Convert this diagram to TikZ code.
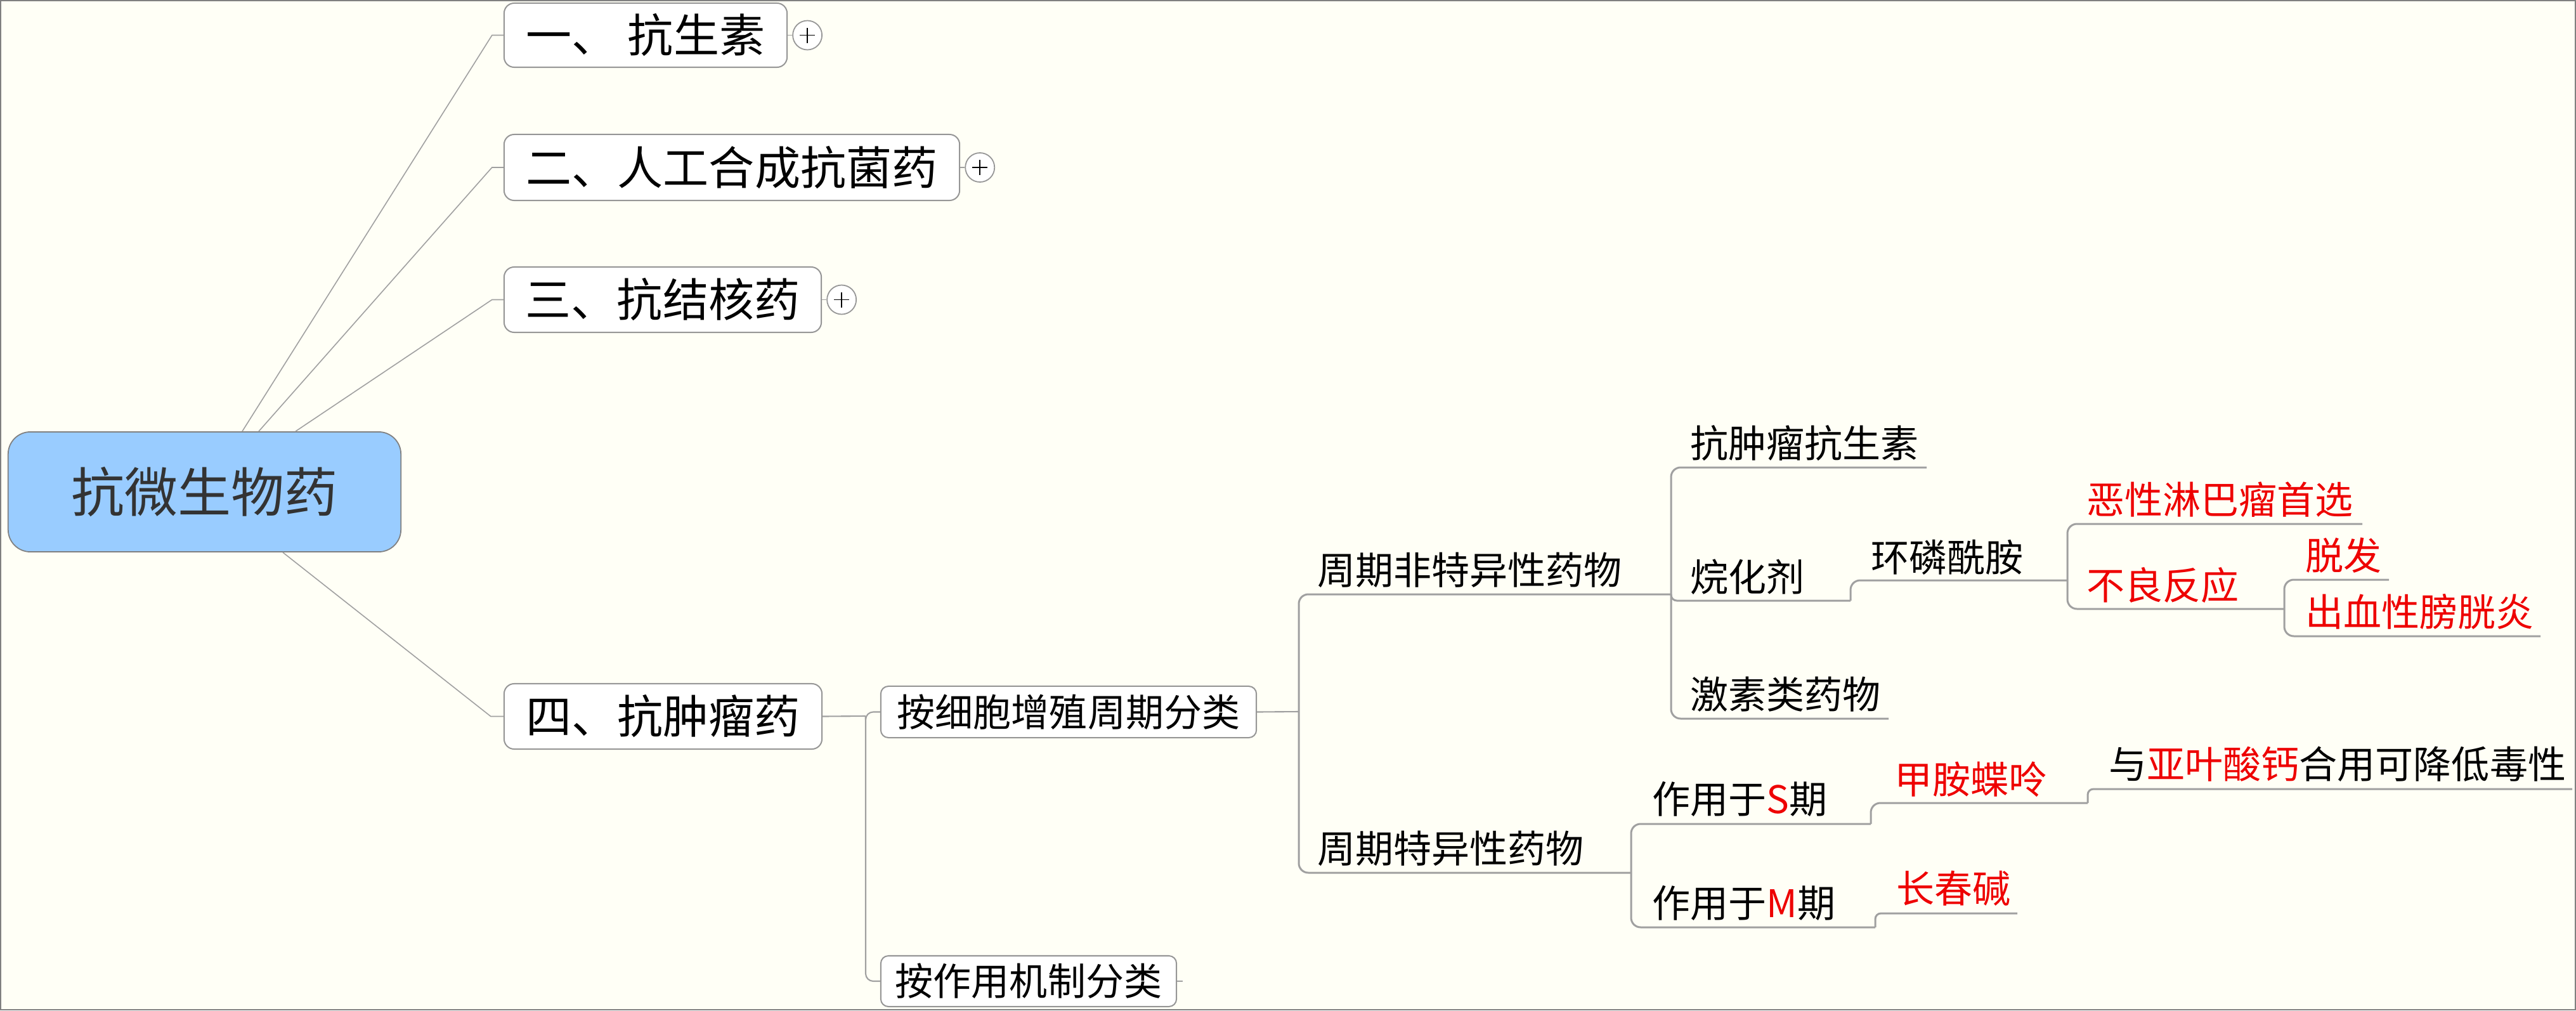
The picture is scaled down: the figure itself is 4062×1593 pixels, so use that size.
\documentclass[tikz,border=0pt]{standalone}
\usepackage{fontspec}
\setmainfont{Noto Sans CJK SC}
\usetikzlibrary{calc}
\definecolor{bgc}{RGB}{255,255,246}
\definecolor{framec}{RGB}{128,128,128}
\definecolor{linec}{RGB}{160,160,160}
\definecolor{boxc}{RGB}{150,150,150}
\definecolor{rootfill}{RGB}{153,204,255}
\definecolor{redt}{RGB}{238,0,0}
\definecolor{roottext}{RGB}{51,51,51}
\tikzset{
  rootbox/.style={draw=framec, line width=0.5pt, fill=rootfill, rounded corners=0.35cm, inner sep=0pt,
    text=roottext, font=\fontsize{23.9}{28}\selectfont},
  topbox/.style={draw=boxc, line width=0.57pt, fill=white, rounded corners=0.16cm, inner sep=0pt,
    font=\fontsize{20.5}{24}\selectfont},
  midbox/.style={draw=boxc, line width=0.57pt, fill=white, rounded corners=0.12cm, inner sep=0pt,
    font=\fontsize{17.07}{20}\selectfont},
  lbl/.style={inner sep=0pt, anchor=west, yshift=-0.07cm, font=\fontsize{17.07}{20}\selectfont,
    text height=0.88em, text depth=0.12em},
  rlbl/.style={lbl, text=redt},
  uline/.style={draw=linec, line width=0.85pt, rounded corners=0.15cm},
  sline/.style={draw=linec, line width=0.85pt, rounded corners=0.09cm},
  vline/.style={draw=linec, line width=0.6pt, rounded corners=0.12cm},
  rootline/.style={draw=linec, line width=0.45pt},
  plusc/.style={circle, draw=boxc, fill=white, minimum size=0.46cm, inner sep=0pt, line width=0.5pt,
    path picture={
      \draw[black, line width=0.45pt] ([xshift=-0.12cm]path picture bounding box.center) -- ([xshift=0.12cm]path picture bounding box.center);
      \draw[black, line width=0.45pt] ([yshift=-0.12cm]path picture bounding box.center) -- ([yshift=0.12cm]path picture bounding box.center);
    }},
}
\begin{document}
\begin{tikzpicture}[x=0.01cm, y=-0.01cm]
\useasboundingbox (0,0) rectangle (4062,1593);
\fill[bgc] (0,0) rectangle (4062,1593);
\draw[framec, line width=0.6pt] (1,1) rectangle (4061,1592);

% root
\node[rootbox, minimum width=6.19cm, minimum height=1.89cm] (root) at (322.5,775.5) {抗微生物药};

% top-level boxes
\node[topbox, minimum width=4.46cm, minimum height=1.01cm] (b1) at (1018,55.5) {一、 抗生素};
\node[topbox, minimum width=7.18cm, minimum height=1.04cm] (b2) at (1154,264) {二、人工合成抗菌药};
\node[topbox, minimum width=5.00cm, minimum height=1.03cm] (b3) at (1045,472.5) {三、抗结核药};
\node[topbox, minimum width=5.01cm, minimum height=1.03cm] (b4) at (1045.5,1129.5) {四、抗肿瘤药};

% collapsed markers
\node[plusc] (p1) at ($(b1.east)+(31,0)$) {};
\node[plusc] (p2) at ($(b2.east)+(31,0)$) {};
\node[plusc] (p3) at ($(b3.east)+(31,0)$) {};
\draw[rootline, line width=0.5pt] (b1.east) -- (p1.west);
\draw[rootline, line width=0.5pt] (b2.east) -- (p2.west);
\draw[rootline, line width=0.5pt] (b3.east) -- (p3.west);

% root connectors
\draw[rootline] ($(root.north)+(59.5,0)$) -- ($(b1.west)+(-18,0)$) -- (b1.west);
\draw[rootline] ($(root.north)+(85.5,0)$) -- ($(b2.west)+(-18,0)$) -- (b2.west);
\draw[rootline] ($(root.north)+(143.5,0)$) -- ($(b3.west)+(-18,0)$) -- (b3.west);
\draw[rootline] ($(root.south)+(123.5,0)$) -- ($(b4.west)+(-20,0)$) -- (b4.west);

% second level boxes
\node[midbox, minimum width=5.92cm, minimum height=0.81cm] (b5) at (1685,1122.5) {按细胞增殖周期分类};
\node[midbox, minimum width=4.66cm, minimum height=0.80cm] (b6) at (1622,1547) {按作用机制分类};

\coordinate (j4) at (1365,1129);
\draw[vline] (b4.east) -- (j4);
\draw[vline] (j4) |- (b5.west);
\draw[vline] (j4) |- (b6.west);
\draw[vline] (b6.east) -- ++(9,0);

\coordinate (j5) at (2048,1122);
\draw[vline] (b5.east) -- (j5);

% labels
\node[lbl] (t1) at (2077,901) {周期非特异性药物};
\coordinate (u1) at (2635,937);
\node[lbl] (t2) at (2077,1340) {周期特异性药物};
\coordinate (u2) at (2572,1376);

\node[lbl] (t11) at (2665,701) {抗肿瘤抗生素};
\coordinate (u11) at (3038,737);
\node[lbl] (t12) at (2665,912) {烷化剂};
\coordinate (u12) at (2918,947);
\node[lbl] (t13) at (2665,1097) {激素类药物};
\coordinate (u13) at (2978,1133);

\node[lbl] (t121) at (2950,881) {环磷酰胺};
\coordinate (u121) at (3260,915);
\node[rlbl] (t1211) at (3290,790) {恶性淋巴瘤首选};
\coordinate (u1211) at (3725,826);
\node[rlbl] (t1212) at (3290,925) {不良反应};
\coordinate (u1212) at (3602,960);
\node[rlbl] (t12121) at (3635,878) {脱发};
\coordinate (u12121) at (3767,914);
\node[rlbl] (t12122) at (3635,967) {出血性膀胱炎};
\coordinate (u12122) at (4006,1003);

\node[lbl] (t21) at (2605,1262) {作用于\textcolor{redt}{S}期};
\coordinate (u21) at (2950,1299);
\node[rlbl] (t211) at (2987,1231) {甲胺蝶呤};
\coordinate (u211) at (3292,1266);
\node[lbl] (t2111) at (3325,1207) {与\textcolor{redt}{亚叶酸钙}合用可降低毒性};
\coordinate (u2111) at (4056,1244);
\node[lbl] (t22) at (2605,1426) {作用于\textcolor{redt}{M}期};
\coordinate (u22) at (2957,1462);
\node[rlbl] (t221) at (2990,1403) {长春碱};
\coordinate (u221) at (3181,1440);

% underline connectors
\draw[uline] (j5) |- (u1);
\draw[uline] (j5) |- (u2);
\draw[uline] (u1) |- (u11);
\draw[sline] (u1) |- (u12);
\draw[uline] (u1) |- (u13);
\draw[uline] (u12) |- (u121);
\draw[uline] (u121) |- (u1211);
\draw[uline] (u121) |- (u1212);
\draw[uline] (u1212) |- (u12121);
\draw[uline] (u1212) |- (u12122);
\draw[uline] (u2) |- (u21);
\draw[uline] (u2) |- (u22);
\draw[uline] (u21) |- (u211);
\draw[sline] (u211) |- (u2111);
\draw[sline] (u22) |- (u221);
\end{tikzpicture}
\end{document}
